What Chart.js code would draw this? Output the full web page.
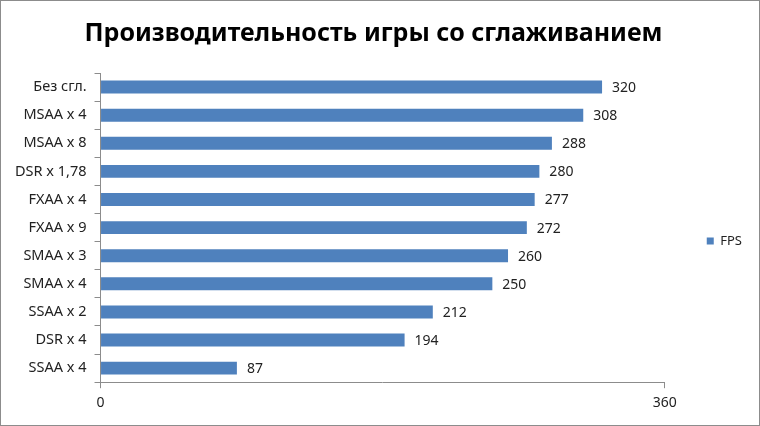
<!DOCTYPE html>
<html lang="ru">
<head>
  <meta charset="UTF-8">
  <script src="https://cdn.jsdelivr.net/npm/chart.js"></script>
  <style>
    html, body { margin: 0; padding: 0; background: #fff; }
    .box { width: 760px; height: 426px; box-sizing: border-box; border: 1px solid #8c8c8c; }
  </style>
  <title>FPS</title>
</head>
<body>
  <div class="box">
    <canvas id="grafico" width="758" height="424"></canvas>
  </div>

<script>
  const titulo = 'Производительность игры со сглаживанием';
  const categorias = ['Без сгл.', 'MSAA x 4', 'MSAA x 8', 'DSR x 1,78', 'FXAA x 4', 'FXAA x 9',
    'SMAA x 3', 'SMAA x 4', 'SSAA x 2', 'DSR x 4', 'SSAA x 4'];
  const fps = [320, 308, 288, 280, 277, 272, 260, 250, 212, 194, 87];
  const eixoX = [0, 360];

  const fonte = "'Noto Sans', sans-serif";
  const azul = '#4f81bd';

  // rotulos de valor ao lado das barras
  const rotulos = {
    id: 'rotulos',
    afterDatasetsDraw(chart) {
      const ctx = chart.ctx;
      const meta = chart.getDatasetMeta(0);
      ctx.save();
      ctx.font = '14px ' + fonte;
      ctx.fillStyle = '#222';
      ctx.textBaseline = 'middle';
      meta.data.forEach((bar, i) => {
        ctx.fillText(fps[i], bar.x + 10, bar.y + 1);
      });
      ctx.restore();
    }
  };

  // empurra a legenda um pouco para baixo/direita, como no original
  const moverLegenda = {
    id: 'moverLegenda',
    afterLayout(chart) {
      const lg = chart.legend;
      lg.top += 32; lg.bottom += 32;
      lg.left += 12; lg.right += 12;
    }
  };

  new Chart(document.getElementById('grafico'), {
    type: 'bar',
    data: {
      labels: categorias,
      datasets: [{
        label: 'FPS',
        data: fps,
        backgroundColor: azul,
        barPercentage: 0.46,
        categoryPercentage: 1
      }]
    },
    options: {
      indexAxis: 'y',
      responsive: false,
      animation: false,
      layout: { padding: { left: 6, right: 19, top: 0, bottom: 8 } },
      plugins: {
        title: {
          display: true,
          text: titulo,
          color: '#000',
          font: { family: fonte, size: 25, weight: 'bold' },
          padding: { top: 18, bottom: 24 }
        },
        legend: {
          position: 'right',
          labels: {
            boxWidth: 7,
            boxHeight: 7,
            color: '#222',
            font: { family: fonte, size: 13 },
            padding: 30
          }
        },
        tooltip: { enabled: false }
      },
      scales: {
        x: {
          min: eixoX[0],
          max: eixoX[1],
          afterBuildTicks(axis) {
            axis.ticks = eixoX.map(v => ({ value: v }));
          },
          grid: { drawOnChartArea: false, drawTicks: true, tickLength: 6, color: '#8c8c8c' },
          border: { color: '#8c8c8c' },
          ticks: { color: '#222', font: { family: fonte, size: 14 }, padding: 6 }
        },
        y: {
          grid: { drawOnChartArea: false, drawTicks: true, tickLength: 6, color: '#8c8c8c' },
          border: { color: '#8c8c8c' },
          ticks: { color: '#222', font: { family: fonte, size: 14.5 }, padding: 8 }
        }
      }
    },
    plugins: [rotulos, moverLegenda]
  });
</script>
</body>
</html>
